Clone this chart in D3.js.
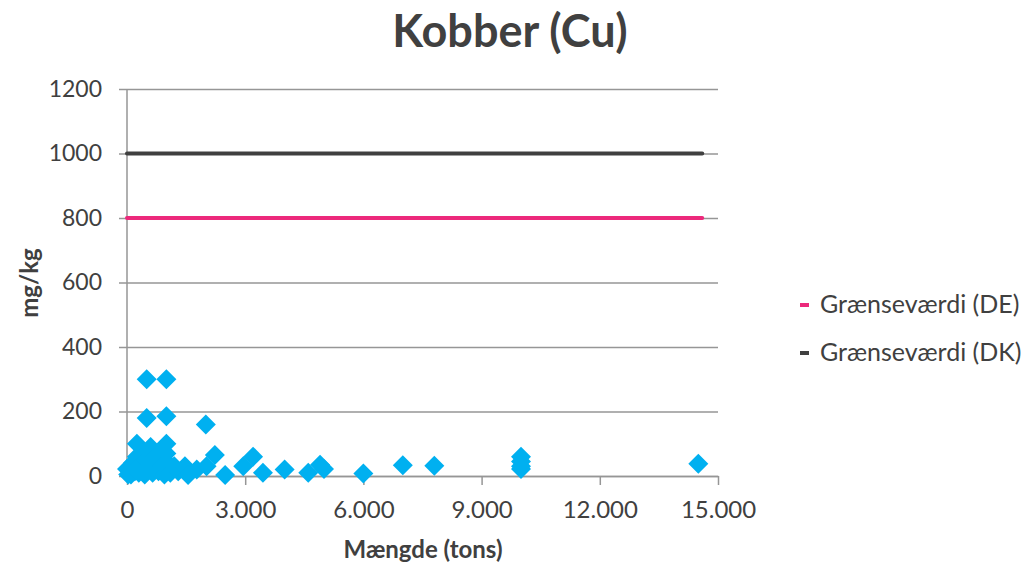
<!DOCTYPE html>
<html>
<head>
<meta charset="utf-8">
<script src="https://cdn.jsdelivr.net/npm/d3@7"></script>
<style>
  html, body { margin: 0; padding: 0; background: #fff; }
  svg { display: block; font-family: Lato, "Open Sans", sans-serif; }
</style>
</head>
<body>
<svg id="chart" width="1035" height="569"></svg>
<script>
// Sample quantities (tons) and copper content (mg/kg)
const amounts = [
  0, 30, 50, 100, 150, 200, 250, 250, 300, 300, 400, 400, 450, 500, 500, 550, 600, 600,
  650, 700, 700, 750, 800, 850, 900, 950, 1000, 1000, 1000, 1050, 1100, 1200, 1300,
  500, 1000, 500, 1000, 2000,
  1470, 1550, 1770, 2020, 2230, 2490, 2950, 3200, 3450, 4000, 4600, 4900, 5000, 6000,
  7000, 7800, 10000, 10000, 10000, 10000, 14500
];
const copper = [
  22, 5, 20, 5, 40, 15, 100, 60, 30, 10, 70, 25, 5, 50, 20, 80, 90, 35,
  10, 60, 25, 40, 15, 70, 30, 5, 100, 70, 45, 20, 10, 30, 15,
  300, 300, 180, 185, 160,
  30, 3, 20, 30, 65, 3, 30, 60, 10, 20, 10, 35, 22, 8,
  33, 32, 60, 45, 30, 22, 38
];

// Limit values
const limitNames = ["Grænseværdi (DE)", "Grænseværdi (DK)"];
const limitValues = [800, 1000];
const limitColors = ["#EC297B", "#404040"];
const limitStart = 0;
const limitEnd = 14600;

const xTicks = [0, 3000, 6000, 9000, 12000, 15000];
const yTicks = [0, 200, 400, 600, 800, 1000, 1200];

const svg = d3.select("#chart");
const textColor = "#404040";
const gridColor = "#969696";

const x = d3.scaleLinear().domain([0, 15000]).range([127, 718]);
const y = d3.scaleLinear().domain([0, 1200]).range([476, 89]);

const fmt = v => v === 0 ? "0" : d3.format(",")(v).replace(/,/g, ".");

// Horizontal gridlines with outward ticks
const yAxis = d3.axisLeft(y).tickValues(yTicks).tickSize(-(718 - 127)).tickSizeOuter(0).tickPadding(25).tickFormat(d => d);
const gy = svg.append("g").attr("transform", "translate(127,0)").call(yAxis);
gy.select(".domain").remove();
gy.selectAll(".tick line").attr("x1", -8).attr("stroke", gridColor).attr("stroke-width", 1.5);
gy.selectAll(".tick text").attr("fill", textColor).style("font-size", "23px").style("font-family", "Lato, sans-serif");

// Vertical axis line
svg.append("line").attr("x1", 127).attr("x2", 127).attr("y1", y(1200)).attr("y2", y(0))
  .attr("stroke", gridColor).attr("stroke-width", 1.5);

// X axis
const xAxis = d3.axisBottom(x).tickValues(xTicks).tickSize(9).tickSizeOuter(0).tickPadding(16).tickFormat(fmt);
const gx = svg.append("g").attr("transform", "translate(0,476)").call(xAxis);
gx.select(".domain").attr("stroke", gridColor).attr("stroke-width", 1.5);
gx.selectAll(".tick line").attr("stroke", gridColor).attr("stroke-width", 1.5);
gx.selectAll(".tick text").attr("fill", textColor).style("font-size", "24px").style("font-family", "Lato, sans-serif");

// Limit lines
limitValues.forEach((v, i) => {
  svg.append("line")
    .attr("x1", x(limitStart)).attr("x2", x(limitEnd))
    .attr("y1", y(v)).attr("y2", y(v))
    .attr("stroke", limitColors[i]).attr("stroke-width", 4)
    .attr("stroke-linecap", "round");
});

// Diamond markers
const r = 10;
const diamond = `M0,${-r}L${r},0L0,${r}L${-r},0Z`;
svg.append("g").selectAll("path")
  .data(amounts.map((a, i) => [a, copper[i]]))
  .join("path")
  .attr("d", diamond)
  .attr("transform", d => `translate(${x(d[0])},${y(d[1])})`)
  .attr("fill", "#00B0F0");

// Title
svg.append("text").attr("x", 510).attr("y", 47).attr("text-anchor", "middle")
  .attr("fill", textColor).style("font-size", "45px").style("font-weight", "bold")
  .text("Kobber (Cu)");

// Axis titles
svg.append("text").attr("x", 423).attr("y", 558).attr("text-anchor", "middle")
  .attr("fill", textColor).style("font-size", "24px").style("font-weight", "bold")
  .text("Mængde (tons)");
svg.append("text").attr("transform", "translate(38,283) rotate(-90)").attr("text-anchor", "middle")
  .attr("fill", textColor).style("font-size", "24px").style("font-weight", "bold")
  .text("mg/kg");

// Legend
const legend = svg.append("g");
limitNames.forEach((name, i) => {
  const ly = 305 + i * 48;
  legend.append("line").attr("x1", 800).attr("x2", 809).attr("y1", ly).attr("y2", ly)
    .attr("stroke", limitColors[i]).attr("stroke-width", 4);
  legend.append("text").attr("x", 820).attr("y", ly + 8).attr("fill", textColor)
    .style("font-size", "25px").text(name);
});
</script>
</body>
</html>
